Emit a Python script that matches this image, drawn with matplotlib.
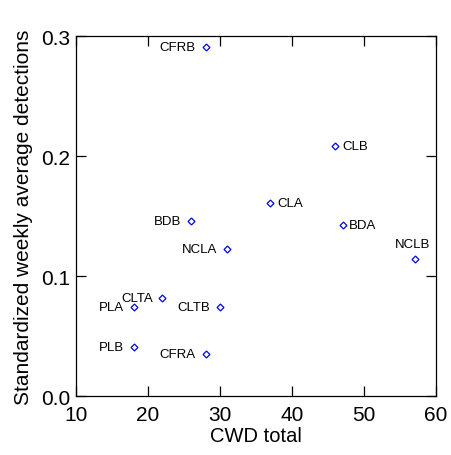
import matplotlib
matplotlib.use("Agg")
import matplotlib.pyplot as plt

plt.rcParams['font.family'] = ['Liberation Sans', 'DejaVu Sans']

sites = ["CFRB", "CLB", "CLA", "BDB", "BDA", "NCLA", "NCLB", "CLTA", "PLA", "CLTB", "PLB", "CFRA"]
cwd_total = [28, 46, 37, 26, 47, 31, 57, 22, 18, 30, 18, 28]
detections = [0.291, 0.209, 0.161, 0.146, 0.143, 0.123, 0.114, 0.082, 0.074, 0.074, 0.041, 0.035]
label_side = ["left", "right", "right", "left", "right", "left", "top", "left", "left", "left", "left", "left"]

fig = plt.figure(figsize=(4.52, 4.56), dpi=100)
ax = fig.add_axes([0.168, 0.129, 0.797, 0.789])

ax.plot(cwd_total, detections, linestyle='none', marker='D', markersize=3.5,
        markerfacecolor='none', markeredgecolor='#0000ff', markeredgewidth=0.9)

for name, x, y, side in zip(sites, cwd_total, detections, label_side):
    if side == "left":
        ax.annotate(name, (x, y), xytext=(-7, 0), textcoords='offset points',
                    ha='right', va='center', fontsize=9.5)
    elif side == "right":
        ax.annotate(name, (x, y), xytext=(4.8, 0), textcoords='offset points',
                    ha='left', va='center', fontsize=9.5)
    else:
        ax.annotate(name, (x, y), xytext=(-1.5, 6.5), textcoords='offset points',
                    ha='center', va='bottom', fontsize=9.5)

ax.set_xlim(10, 60)
ax.set_ylim(0.0, 0.3)
ax.set_xticks([10, 20, 30, 40, 50, 60])
ax.set_yticks([0.0, 0.1, 0.2, 0.3])
ax.set_yticklabels(["0.0", "0.1", "0.2", "0.3"])
ax.tick_params(direction='in', length=7, width=0.9, top=True, right=True,
               labelsize=15)
ax.tick_params(axis='x', pad=6)
ax.tick_params(axis='y', pad=4)
for s in ax.spines.values():
    s.set_linewidth(0.9)

ax.set_xlabel("CWD total", fontsize=14.5, labelpad=2)
ax.set_ylabel("Standardized weekly average detections", fontsize=15, labelpad=6)

fig.savefig("out.png", dpi=100)
